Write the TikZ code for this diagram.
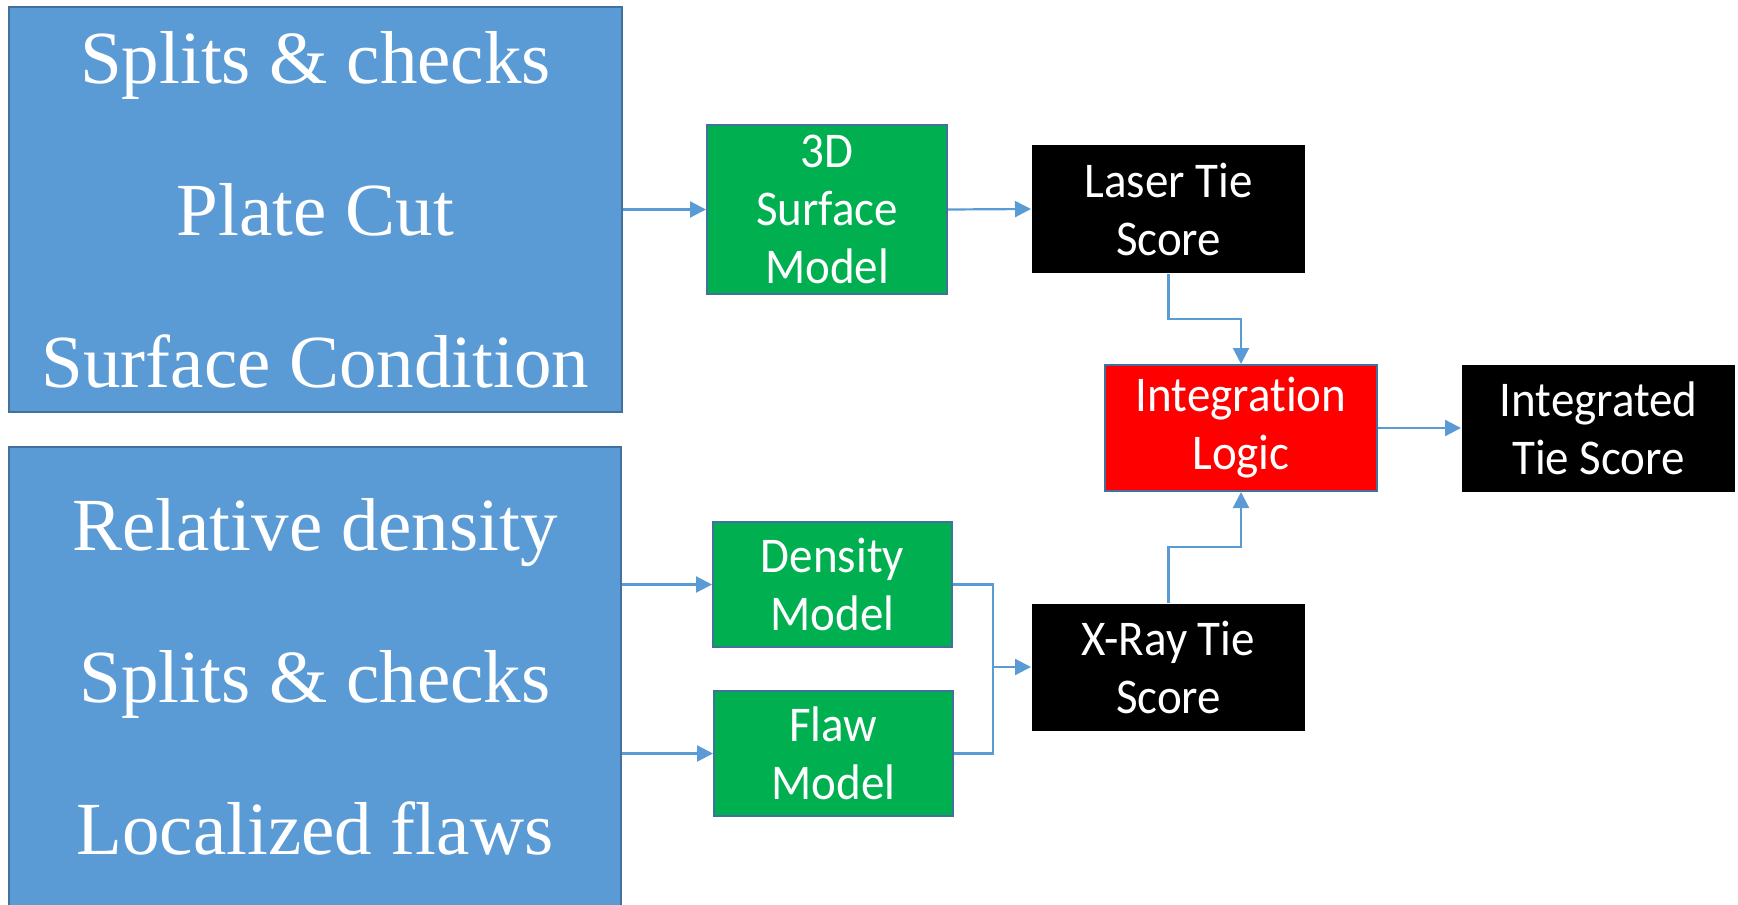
\documentclass[tikz,border=0pt]{standalone}
\usepackage{fontspec}
\setmainfont{Liberation Serif}
\newfontfamily\calibfont[FakeStretch=0.94,Ligatures=NoCommon]{Carlito}
\usetikzlibrary{arrows.meta,calc,positioning}
\definecolor{inblue}{HTML}{5B9BD5}
\definecolor{edgeblue}{HTML}{41719C}
\definecolor{modelgreen}{HTML}{00B050}
\tikzstyle{every path}+=[line width=1pt]
\tikzstyle{inputbox}=[rectangle,draw=edgeblue,fill=inblue,text=white,inner sep=0pt,align=center,minimum width=306.5pt,font=\fontsize{37.5}{76}\selectfont]
\tikzstyle{modelbox}=[rectangle,draw=edgeblue,fill=modelgreen,text=white,inner sep=0pt,align=center,minimum width=120pt,font=\calibfont\fontsize{25}{29}\selectfont]
\tikzstyle{scorebox}=[modelbox,draw=none,fill=black,minimum width=136.5pt,minimum height=63.5pt]
\tikzstyle{logicbox}=[modelbox,fill=red,minimum width=136pt,minimum height=63pt]
\tikzstyle{flow}=[draw=inblue,line width=1.1pt,-{Triangle[length=8pt,width=8pt]}]
\newcommand{\drawflows}[1]{
	\foreach \a/\b in {#1}{
		\draw[flow] (\a) -- (\b);
	}
}

\begin{document}
\begin{tikzpicture}[x=0.5pt,y=-0.5pt]
\useasboundingbox (0,0) rectangle (1738,904);

% inputs
\node[inputbox,minimum height=202.5pt] (laserin) at (315.5,209.5) {Splits \& checks\\Plate Cut\\Surface Condition};
\node[inputbox,minimum width=306pt,minimum height=230pt] (xrayin) at (315,677) {Relative density\\Splits \& checks\\Localized flaws};

% models
\node[modelbox,minimum height=84.5pt] (surf) at (827,209.5) {3D\\Surface\\Model};
\node[modelbox,minimum width=119.5pt,minimum height=62.5pt] (dens) at (832.5,584.5) {Density\\Model};
\node[modelbox,minimum width=119.5pt,minimum height=62.5pt] (flaw) at (833.5,753.5) {Flaw\\Model};

% scores
\node[scorebox,minimum height=64pt] (laser) at (1168.5,209) {Laser Tie\\Score};
\node[scorebox] (xray) at (1168.5,667) {X-Ray Tie\\Score};
\node[logicbox] (integ) at (1241,428) {Integrat\kern0pt ion\\Logic};
\node[scorebox] (result) at (1598.5,428) {Integrated\\Tie Score};

\coordinate (join) at (993,667);

\draw[flow] (surf.west -| laserin.east) -- (surf.west);
\draw[flow] (dens.west -| xrayin.east) -- (dens.west);
\draw[flow] (flaw.west -| xrayin.east) -- (flaw.west);
\draw[draw=inblue,line width=1.1pt] (dens.east) -| (join);
\draw[draw=inblue,line width=1.1pt] (flaw.east) -| (join);
\draw[flow] (laser.south) |- ($(laser.south)!0.5!(integ.north)$) -| (integ.north);
\draw[flow] (xray.north) |- ($(xray.north)!0.5!(integ.south)$) -| (integ.south);
\drawflows{surf.east/laser.west,join/xray.west,integ.east/result.west}
\end{tikzpicture}
\end{document}
